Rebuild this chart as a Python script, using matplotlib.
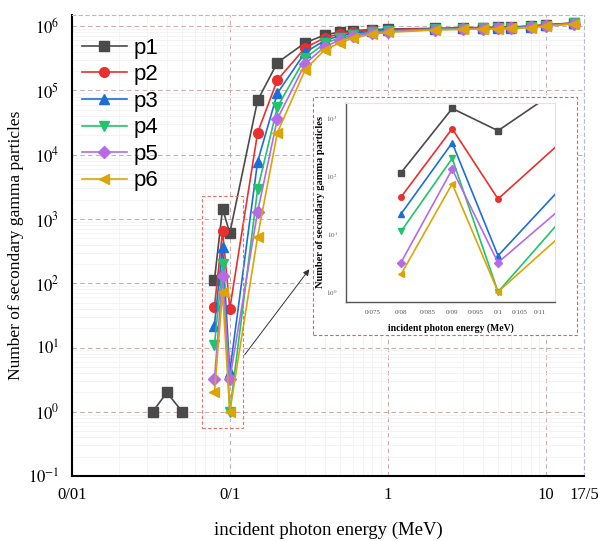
import matplotlib
matplotlib.use("Agg")
import matplotlib.pyplot as plt
import matplotlib.patches as mpatches
from matplotlib.transforms import ScaledTranslation
from matplotlib.ticker import FixedLocator, NullFormatter, NullLocator
import numpy as np

plt.rcParams['font.family'] = ['Liberation Serif', 'DejaVu Serif']
plt.rcParams['mathtext.fontset'] = 'stix'

# energies (MeV)
energy = [0.08, 0.09, 0.1, 0.15, 0.2, 0.3, 0.4, 0.5, 0.6, 0.8, 1, 2, 3, 4, 5, 6, 8, 10, 15]
# low-energy points of p1 (not joined to the rest)
energy_low = [0.0325, 0.04, 0.05]
p1_low = [1, 2, 1]

p1 = [113, 1450, 600, 7.0e4, 2.7e5, 5.5e5, 7.3e5, 8.1e5, 8.5e5, 8.8e5, 9.0e5,
      9.2e5, 9.4e5, 9.5e5, 9.6e5, 9.7e5, 1.0e6, 1.05e6, 1.12e6]
p2 = [43, 650, 40, 2.2e4, 1.45e5, 4.6e5, 6.6e5, 7.6e5, 8.1e5, 8.6e5, 8.8e5,
      9.1e5, 9.3e5, 9.4e5, 9.5e5, 9.6e5, 9.9e5, 1.04e6, 1.11e6]
p3 = [22, 370, 4.2, 7.8e3, 9.0e4, 3.9e5, 6.0e5, 7.1e5, 7.7e5, 8.3e5, 8.6e5,
      9.0e5, 9.2e5, 9.3e5, 9.4e5, 9.5e5, 9.8e5, 1.03e6, 1.10e6]
p4 = [11, 200, 1, 2.9e3, 5.5e4, 3.2e5, 5.4e5, 6.6e5, 7.3e5, 8.0e5, 8.4e5,
      8.9e5, 9.1e5, 9.2e5, 9.3e5, 9.4e5, 9.7e5, 1.02e6, 1.10e6]
p5 = [3.2, 130, 3.2, 1.3e3, 3.6e4, 2.6e5, 4.8e5, 6.1e5, 6.9e5, 7.8e5, 8.2e5,
      8.8e5, 9.0e5, 9.1e5, 9.2e5, 9.3e5, 9.6e5, 1.01e6, 1.09e6]
p6 = [2.0, 73, 1, 530, 2.2e4, 2.1e5, 4.3e5, 5.5e5, 6.5e5, 7.5e5, 8.0e5,
      8.7e5, 8.9e5, 9.0e5, 9.1e5, 9.2e5, 9.5e5, 1.0e6, 1.08e6]

series = [p1, p2, p3, p4, p5, p6]
names = ['p1', 'p2', 'p3', 'p4', 'p5', 'p6']
colors = ['#4a4a4a', '#e8302e', '#1c6ed6', '#20c46c', '#b66ae6', '#dba507']
markers = ['s', 'o', '^', 'v', 'D', '<']

fig = plt.figure(figsize=(5.98, 5.41), dpi=100)
ax = fig.add_axes([0.120, 0.120, 0.857, 0.852])

for y, n, c, m in zip(series, names, colors, markers):
    ms = 6 if m == 'D' else 7
    ax.plot(energy, y, color=c, marker=m, markersize=ms, linewidth=1.2, label=n)
ax.plot(energy_low, p1_low, color=colors[0], marker='s', markersize=7, linewidth=1.2)

ax.set_xscale('log')
ax.set_yscale('log')
ax.set_xlim(0.01, 17.5)
ax.set_ylim(0.1, 1.48e6)

ax.xaxis.set_major_locator(FixedLocator([0.01, 0.1, 1, 10, 17.5]))
ax.set_xticklabels(['0/01', '0/1', '1', '10', '17/5'])
ax.xaxis.set_minor_formatter(NullFormatter())
lbl = ax.get_xticklabels()[-1]
lbl.set_transform(lbl.get_transform() + ScaledTranslation(-0.01, 0.09, fig.dpi_scale_trans))
ax.yaxis.set_major_locator(FixedLocator([10.0 ** k for k in range(-1, 7)]))
ax.set_yticklabels([r'$10^{%d}$' % k for k in range(-1, 7)])
ax.yaxis.set_minor_formatter(NullFormatter())
ax.tick_params(which='both', length=0, labelsize=12)
ax.tick_params(axis='x', pad=8)
ax.tick_params(axis='y', pad=9)

ax.grid(True, which='major', linestyle=(0, (4, 3)), color='#c9aeae', linewidth=0.8)
ax.grid(True, which='minor', linestyle='-', color='#f2f2f2', linewidth=0.6)
for s in ['top', 'right']:
    ax.spines[s].set_linestyle((0, (3, 3)))
    ax.spines[s].set_color('#b8b8c8')
    ax.spines[s].set_linewidth(0.8)
for s in ['left', 'bottom']:
    ax.spines[s].set_linewidth(1.5)

ax.set_xlabel('incident photon energy (MeV)', fontsize=13.5, labelpad=13)
ax.set_ylabel('Number of secondary gamma particles', fontsize=12.5, labelpad=3)

leg = ax.legend(loc='upper left', bbox_to_anchor=(-0.01, 0.985), frameon=False,
                prop={'family': 'Liberation Sans', 'size': 16}, handlelength=2.0,
                labelspacing=0.25, handletextpad=0.3, borderaxespad=0.3)

# red dashed zoom box in main axes
ax.add_patch(mpatches.Rectangle((0.0665, 0.56), 0.121 - 0.0665, 2290 - 0.56, fill=False,
                                edgecolor='#e07070', linestyle=(0, (3, 2)), linewidth=0.8, zorder=5))
ax.annotate('', xy=(311 / 598, 1 - 267 / 541), xycoords='figure fraction',
            xytext=(243 / 598, 1 - 357 / 541), textcoords='figure fraction',
            arrowprops=dict(arrowstyle='-|>', color='#333333', lw=0.7, mutation_scale=9))

# white box behind inset
ax.add_patch(mpatches.Rectangle((313 / 598, 1 - 335 / 541), (577 - 313) / 598, (335 - 97) / 541,
                                transform=fig.transFigure, facecolor='white', edgecolor='#e06060',
                                linestyle=(0, (3, 2)), linewidth=0.8, clip_on=False, zorder=10))

ins = fig.add_axes([346 / 598, 1 - 302 / 541, 209 / 598, 199 / 541])
for y, c, m in zip(series, colors, markers):
    ms = 3.6 if m == 'D' else 4
    ins.plot(energy, y, color=c, marker=m, markersize=ms, linewidth=1.2)
ins.set_xscale('log')
ins.set_yscale('log')
ins.set_xlim(0.0705, 0.114)
ins.set_ylim(0.67, 1800)
ins_ticks = [0.075, 0.08, 0.085, 0.09, 0.095, 0.1, 0.105, 0.11]
ins.xaxis.set_major_locator(FixedLocator(ins_ticks))
ins.set_xticklabels(['0/075', '0/08', '0/085', '0/09', '0/095', '0/1', '0/105', '0/11'])
ins.xaxis.set_minor_locator(NullLocator())
ins.yaxis.set_major_locator(FixedLocator([1, 10, 100, 1000]))
ins.set_yticklabels([r'$10^{%d}$' % k for k in range(0, 4)])
ins.yaxis.set_minor_locator(NullLocator())
ins.tick_params(length=0, labelsize=5, colors='#555555', pad=6)
ins.set_xlabel('incident photon energy (MeV)', fontsize=7, fontweight='bold', labelpad=6)
ins.set_ylabel('Number of secondary gamma particles', fontsize=7.5, fontweight='bold', labelpad=1)
for s in ['top', 'right']:
    ins.spines[s].set_color('#e4e4e4')
for s in ['left', 'bottom']:
    ins.spines[s].set_color('#555555')
    ins.spines[s].set_linewidth(1.0)

fig.savefig('out.png', dpi=100)
